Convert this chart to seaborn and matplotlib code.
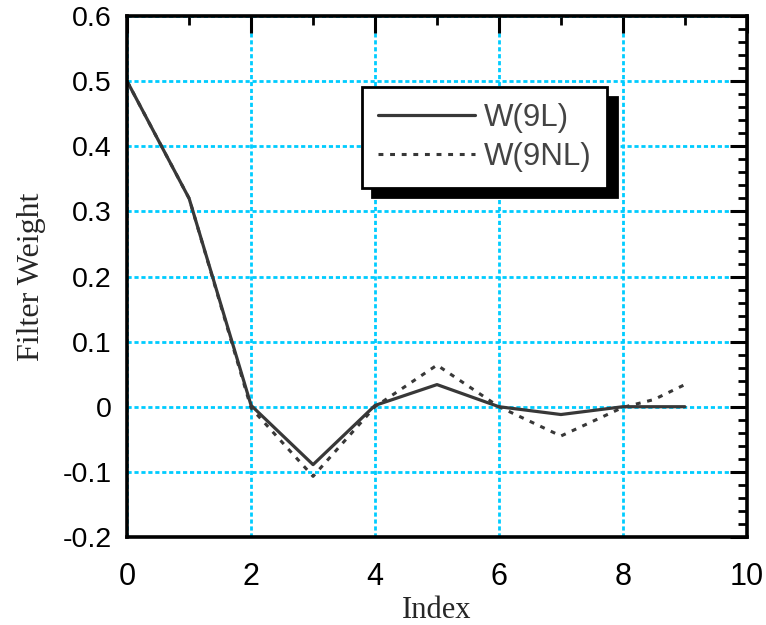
import numpy as np
import pandas as pd
import matplotlib
matplotlib.use("Agg")
import matplotlib.pyplot as plt
from matplotlib.ticker import MultipleLocator, FormatStrFormatter
import seaborn as sns

# Filter weights
idx_9l = [0, 1, 2, 3, 4, 5, 6, 7, 8, 9]
w_9l = [0.5, 0.32, 0.002, -0.089, 0.002, 0.034, 0.0, -0.012, 0.0, 0.0]

idx_9nl = [0, 1, 2, 3, 4, 5, 6, 7, 8, 8.5, 9]
w_9nl = [0.5, 0.32, -0.002, -0.107, 0.0, 0.064, 0.0, -0.045, -0.001, 0.011, 0.034]

x_ticks = [0, 2, 4, 6, 8, 10]
y_ticks = [-0.2, -0.1, 0, 0.1, 0.2, 0.3, 0.4, 0.5, 0.6]

sns.set_style("white")
plt.rcParams["axes.unicode_minus"] = False
plt.rcParams["font.family"] = ["Liberation Sans", "DejaVu Sans"]

df_l = pd.DataFrame({"Index": idx_9l, "Weight": w_9l})
df_nl = pd.DataFrame({"Index": idx_9nl, "Weight": w_9nl})

fig = plt.figure(figsize=(7.66, 6.25), dpi=100)
ax = fig.add_axes([0.166, 0.141, 0.809, 0.833])

line_col = "#383838"
sns.lineplot(data=df_l, x="Index", y="Weight", ax=ax, color=line_col,
             linewidth=2.3, estimator=None, sort=False, label="W(9L)")
sns.lineplot(data=df_nl, x="Index", y="Weight", ax=ax, color=line_col,
             linewidth=2.2, estimator=None, sort=False, label="W(9NL)",
             linestyle=(0, (1.6, 2.2)))

ax.set_xlim(0, 10)
ax.set_ylim(-0.2, 0.6)
ax.set_xticks(x_ticks)
ax.set_yticks(y_ticks)
ax.xaxis.set_minor_locator(MultipleLocator(1))
ax.yaxis.set_minor_locator(MultipleLocator(0.02))
ax.yaxis.set_major_formatter(FormatStrFormatter("%g"))

ax.grid(True, which="major", color="#00ccff", linestyle=(0, (1.5, 1.0)),
        linewidth=2.0)
ax.set_axisbelow(True)

ax.tick_params(which="both", direction="in", top=True, right=True,
               colors="black")
ax.tick_params(axis="y", which="major", labelsize=20.5, pad=11)
ax.tick_params(axis="x", which="major", labelsize=22, pad=18)
ax.tick_params(which="major", length=12, width=2.2)
ax.tick_params(which="minor", length=6.5, width=2.0)
for s in ax.spines.values():
    s.set_linewidth(2.6)
    s.set_color("black")

ax.set_xlabel("Index", family=["Liberation Serif", "DejaVu Serif"],
              fontsize=22, labelpad=3)
ax.set_ylabel("Filter Weight", family=["Liberation Serif", "DejaVu Serif"],
              fontsize=23, labelpad=12)

leg = ax.legend(loc="upper left", bbox_to_anchor=(0.379, 0.864),
                borderaxespad=0, fontsize=22.5, handlelength=3.1,
                handletextpad=0.3, labelspacing=0.3, borderpad=0.5,
                fancybox=False, framealpha=1, edgecolor="black",
                shadow={"ox": 7, "oy": -7, "color": "black", "alpha": 1})
leg.get_frame().set_linewidth(2)
for t in leg.get_texts():
    t.set_color("#444444")

fig.savefig("out.png", dpi=100)
